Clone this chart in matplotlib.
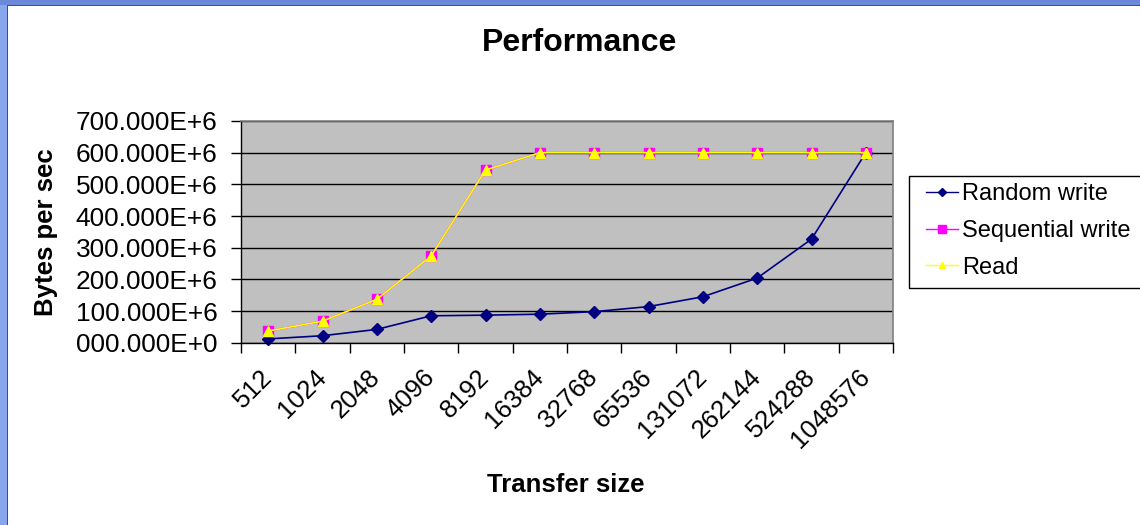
import numpy as np
import matplotlib
matplotlib.use("Agg")
import matplotlib.pyplot as plt
from matplotlib.patches import Rectangle
from matplotlib.ticker import FixedLocator, FuncFormatter

plt.rcParams['font.family'] = ['Liberation Sans', 'DejaVu Sans']

# Transfer sizes (bytes) and measured throughput (bytes per second)
transfer_sizes = ["512", "1024", "2048", "4096", "8192", "16384", "32768",
                  "65536", "131072", "262144", "524288", "1048576"]
random_write = [12e6, 22e6, 42e6, 85e6, 87e6, 90e6, 98e6,
                114e6, 145e6, 204e6, 327e6, 600e6]
sequential_write = [37e6, 68e6, 137e6, 274e6, 545e6, 600e6, 600e6,
                    600e6, 600e6, 600e6, 600e6, 600e6]
read = [37e6, 68e6, 137e6, 274e6, 545e6, 600e6, 600e6,
        600e6, 600e6, 600e6, 600e6, 600e6]
y_ticks = [0, 100e6, 200e6, 300e6, 400e6, 500e6, 600e6, 700e6]

W, H = 1140, 525
fig = plt.figure(figsize=(W / 100, H / 100), dpi=100)
fig.patch.set_facecolor("white")

# window frame strips
fig.patches.append(Rectangle((0, 0), 6.5 / W, 1, transform=fig.transFigure,
                             facecolor="#88a6ee", edgecolor="none"))
fig.patches.append(Rectangle((6.5 / W, 0), 1.7 / W, 1, transform=fig.transFigure,
                             facecolor="#505050", edgecolor="none"))
fig.patches.append(Rectangle((0, 1 - 4.5 / H), 1, 4.5 / H, transform=fig.transFigure,
                             facecolor="#6c88d8", edgecolor="none"))
fig.patches.append(Rectangle((6.5 / W, 1 - 6.2 / H), 1, 1.7 / H, transform=fig.transFigure,
                             facecolor="#505050", edgecolor="none"))

x0, x1 = 241, 893
ytop, ybot = 121, 342.7
ax = fig.add_axes([x0 / W, 1 - ybot / H, (x1 - x0) / W, (ybot - ytop) / H])
ax.set_facecolor("#c0c0c0")

n = len(transfer_sizes)
xs = np.arange(n) + 0.5

ax.set_xlim(0, n)
ax.set_ylim(0, 700e6)

ax.yaxis.set_major_locator(FixedLocator(y_ticks))


def sci_fmt(v, pos):
    if v == 0:
        return "000.000E+0"
    return "%07.3fE+6" % (v / 1e6)


ax.yaxis.set_major_formatter(FuncFormatter(sci_fmt))
ax.grid(axis="y", color="black", linewidth=1.0)
ax.set_axisbelow(True)

ax.set_xticks(xs)
ax.set_xticklabels(transfer_sizes, rotation=45, ha="right", va="center",
                   rotation_mode="anchor", fontsize=18.5)
ax.set_xticks(np.arange(n + 1), minor=True)
ax.tick_params(axis="x", which="major", length=0, pad=22)
ax.tick_params(axis="x", which="minor", length=7, width=1, color="black",
               direction="out")
ax.tick_params(axis="y", length=7, width=1, color="black", direction="out",
               labelsize=18.9, pad=10)

for side in ("top", "right"):
    ax.spines[side].set_color("#808080")
    ax.spines[side].set_linewidth(1.2)
for side in ("left", "bottom"):
    ax.spines[side].set_color("black")
    ax.spines[side].set_linewidth(1.0)

l1, = ax.plot(xs, random_write, color="#000080", linewidth=1.2, marker="D",
              markersize=6.5, markeredgecolor="#000080", markerfacecolor="#000080",
              label="Random write")
l2, = ax.plot(xs, sequential_write, color="#ff00ff", linewidth=1.2, marker="s",
              markersize=7, markeredgecolor="#ff00ff", markerfacecolor="#ff00ff",
              label="Sequential write")
l3, = ax.plot(xs, read, color="#ffff00", linewidth=1.2, marker="^",
              markersize=7, markeredgecolor="#ffff00", markerfacecolor="#ffff00",
              label="Read")
for ln in (l1, l2, l3):
    ln.set_clip_on(False)

fig.text(580 / W, 1 - 43 / H, "Performance", ha="center", va="center",
         fontsize=23, fontweight="bold")
fig.text(566 / W, 1 - 485 / H, "Transfer size", ha="center", va="center",
         fontsize=18.5, fontweight="bold")
fig.text(46 / W, 1 - 232 / H, "Bytes per sec", ha="center", va="center",
         rotation=90, fontsize=18.5, fontweight="bold")

# legend frame and entries
fig.patches.append(Rectangle((909 / W, 1 - 288 / H), (1160 - 909) / W, (288 - 176) / H,
                             transform=fig.transFigure, facecolor="white",
                             edgecolor="black", linewidth=1.0, zorder=2))
leg_handles = [
    plt.Line2D([], [], color="#000080", linewidth=1.0, marker="D", markersize=4,
               markerfacecolor="#000080", markeredgecolor="#000080"),
    plt.Line2D([], [], color="#ff00ff", linewidth=1.0, marker="s", markersize=6,
               markerfacecolor="#ff00ff", markeredgecolor="#ff00ff"),
    plt.Line2D([], [], color="#ffff00", linewidth=1.0, marker="^", markersize=5,
               markerfacecolor="#ffff00", markeredgecolor="#ffff00"),
]
leg = fig.legend(leg_handles, ["Random write", "Sequential write", "Read"],
                 loc="upper left", bbox_to_anchor=(926 / W, 1 - 183 / H),
                 frameon=False, fontsize=17, handlelength=1.36,
                 handletextpad=0.17, labelspacing=0.63, borderpad=0,
                 borderaxespad=0)
leg.set_zorder(3)

fig.savefig("out.png", dpi=100)
